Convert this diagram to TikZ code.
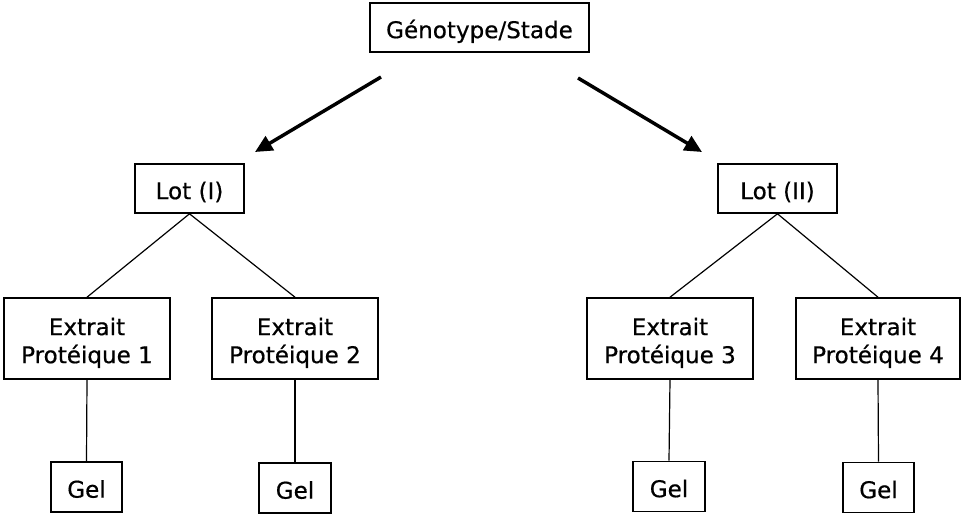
\documentclass[tikz,border=0pt]{standalone}
\usepackage{fontspec}
\setmainfont{DejaVu Sans}[FakeBold=0.5]
\usetikzlibrary{arrows.meta}
\begin{document}
\begin{tikzpicture}[x=0.75pt,y=-0.75pt,
  box/.style={draw,line width=1.2pt,inner sep=0pt,align=center,
    font=\fontsize{17.3}{21}\selectfont},
  oneline/.style={box,text height=16pt,text depth=0pt},
  twoline/.style={box,text height=37pt,text depth=0pt},
  link/.style={line width=0.9pt},
  bigarrow/.style={line width=2.6pt,-{Triangle[length=13pt,width=12pt]}}]
\useasboundingbox (0,0) rectangle (961,514);
% root
\node[oneline,minimum width=219*0.75pt,minimum height=49*0.75pt] (root) at (479.5,27.5) {Génotype/Stade};
% batches
\node[oneline,minimum width=109*0.75pt,minimum height=49*0.75pt] (lot1) at (189.5,188.5) {Lot (I)};
\node[oneline,minimum width=119*0.75pt,minimum height=49*0.75pt] (lot2) at (777.5,188.5) {Lot (II)};
% protein extracts
\node[twoline,minimum width=166*0.75pt,minimum height=81*0.75pt] (e1) at (87,338.5) {Extrait\\Protéique 1};
\node[twoline,minimum width=166*0.75pt,minimum height=81*0.75pt] (e2) at (295,338.5) {Extrait\\Protéique 2};
\node[twoline,minimum width=166*0.75pt,minimum height=81*0.75pt] (e3) at (670,338.5) {Extrait\\Protéique 3};
\node[twoline,minimum width=164*0.75pt,minimum height=81*0.75pt] (e4) at (878,338.5) {Extrait\\Protéique 4};
% gels
\node[oneline,minimum width=71*0.75pt,minimum height=50*0.75pt] (g1) at (86.5,487) {Gel};
\node[oneline,minimum width=72*0.75pt,minimum height=50*0.75pt] (g2) at (295,488) {Gel};
\node[oneline,minimum width=72*0.75pt,minimum height=50*0.75pt] (g3) at (669,486.5) {Gel};
\node[oneline,minimum width=71*0.75pt,minimum height=50*0.75pt] (g4) at (878.5,487.5) {Gel};
% free ends of the two arrows
\coordinate (a1s) at (381,77);
\coordinate (a1e) at (255,152);
\coordinate (a2s) at (578,78);
\coordinate (a2e) at (702,152);
\draw[bigarrow] (a1s) -- (a1e);
\draw[bigarrow] (a2s) -- (a2e);
% tree links
\draw[link] (lot1.south) -- (e1.north);
\draw[link] (lot1.south) -- (e2.north);
\draw[link] (lot2.south) -- (e3.north);
\draw[link] (lot2.south) -- (e4.north);
\draw[link] (e1.south) -- (g1.north);
\draw[link] (e2.south) -- (g2.north);
\draw[link] (e3.south) -- (g3.north);
\draw[link] (e4.south) -- (g4.north);
\end{tikzpicture}
\end{document}
